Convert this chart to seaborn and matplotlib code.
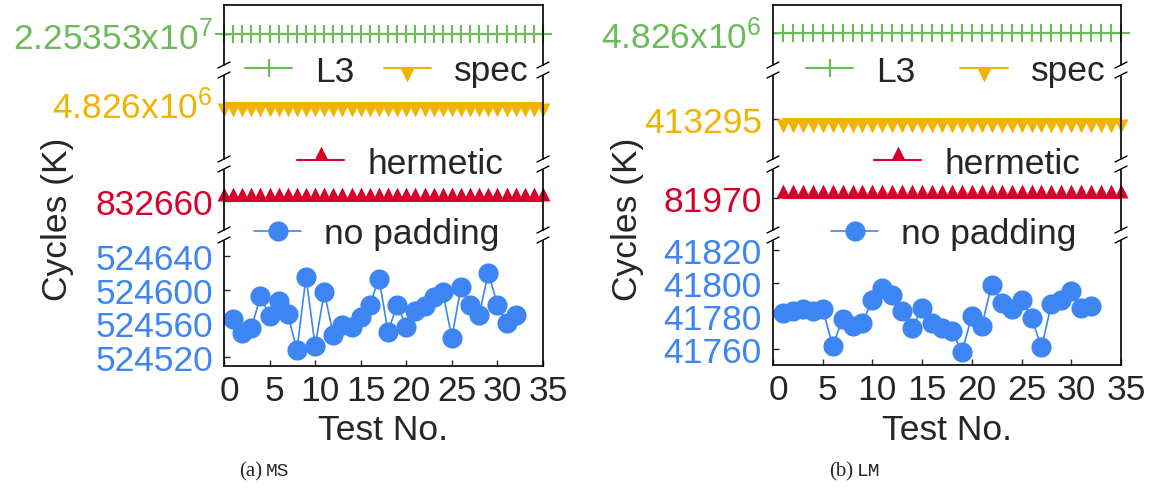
import matplotlib
matplotlib.use('Agg')
import matplotlib.pyplot as plt
import matplotlib.transforms as mtransforms
from matplotlib.lines import Line2D
from matplotlib.patches import Rectangle
import seaborn as sns

sns.set_style('white')
plt.rcParams['font.family'] = ['Liberation Sans', 'DejaVu Sans']
plt.rcParams['mathtext.fontset'] = 'custom'
plt.rcParams['mathtext.rm'] = 'Liberation Sans'
plt.rcParams['mathtext.it'] = 'Liberation Sans'

# ---- data ----
ms_tests = list(range(1, 33))
ms_nopad = [524565, 524549, 524554, 524592, 524569, 524586, 524571, 524528,
            524615, 524533, 524597, 524546, 524558, 524556, 524567, 524582,
            524613, 524550, 524582, 524556, 524574, 524581, 524591, 524597,
            524543, 524603, 524582, 524570, 524620, 524582, 524560, 524570]
ms_flat_tests = list(range(0, 36))
ms_l3 = 2.25353e7
ms_spec = 4.826e6
ms_hermetic = 832660
ms_yticks = [524520, 524560, 524600, 524640]

lm_tests = list(range(1, 33))
lm_nopad = [41782, 41783, 41784, 41783, 41784, 41762, 41778, 41774,
            41776, 41790, 41797, 41793, 41783, 41773, 41785, 41776,
            41773, 41771, 41758, 41780, 41774, 41799, 41788, 41784,
            41790, 41779, 41761, 41787, 41790, 41795, 41785, 41786]
lm_flat_tests = list(range(1, 36))
lm_l3 = 4.826e6
lm_spec = 413295
lm_hermetic = 81970
lm_yticks = [41760, 41780, 41800, 41820]

ms_flat_labels = ['2.25353x10$^{7}$', '4.826x10$^{6}$', '832660']
lm_flat_labels = ['4.826x10$^{6}$', '413295', '81970']
xticks = [0, 5, 10, 15, 20, 25, 30, 35]

GREEN = '#6cbb5a'
GOLD = '#f2b300'
RED = '#d8002a'
BLUE = '#3d85f2'
FS = 25.5

W, H = 1151, 489
fig = plt.figure(figsize=(W / 100, H / 100), dpi=100)


def fx(px):
    return px / W


def fy(py):
    return 1 - py / H


tri_down = [(-0.5, 0), (0.5, 0), (0, -1)]
tri_up = [(-0.5, 0), (0.5, 0), (0, 1)]


def break_mark(xpx, ypx):
    fig.add_artist(Rectangle((fx(xpx - 3), fy(ypx + 4)), 6 / W, 8 / H,
                             transform=fig.transFigure, color='white', zorder=10))
    for dy in (-5, 5):
        yc = ypx + dy
        fig.add_artist(Line2D([fx(xpx - 6), fx(xpx + 6)], [fy(yc + 3), fy(yc - 3)],
                              transform=fig.transFigure, color='black', lw=1.0, zorder=11))


def panel(left, right, bounds, vpx, flat_x, l3, spec, herm, flat_labels,
          tests, nopad, ylim4, yticks4, leg_x, colsp, ylab_x, cap_x, caption):
    axes = []
    for i in range(4):
        top, bot = bounds[i], bounds[i + 1]
        ax = fig.add_axes([fx(left), fy(bot), (right - left) / W, (bot - top) / H])
        ax.set_xlim(0, 35)
        for s in ax.spines.values():
            s.set_color('black')
            s.set_linewidth(1.2)
        ax.spines['top'].set_visible(i == 0)
        ax.spines['bottom'].set_visible(i == 3)
        ax.tick_params(axis='y', direction='in', length=4, width=1, left=True,
                       right=False, labelsize=FS, pad=8)
        ax.tick_params(axis='x', direction='in', length=4, width=1, bottom=(i == 3),
                       top=False, labelbottom=(i == 3), labelsize=FS, pad=6)
        axes.append(ax)

    flat_vals = [l3, spec, herm]
    colors = [GREEN, GOLD, RED]
    markers = ['+', tri_down, tri_up]
    msizes = [13, 20, 20]
    handles = []
    for i in range(3):
        ax = axes[i]
        v = flat_vals[i]
        top, bot = bounds[i], bounds[i + 1]
        k = v * 1e-4
        ax.set_ylim(v - (bot - vpx[i]) * k, v + (vpx[i] - top) * k)
        sns.lineplot(x=flat_x, y=[v] * len(flat_x), ax=ax, color=colors[i],
                     marker=markers[i], markersize=msizes[i], markeredgecolor=colors[i],
                     markeredgewidth=1.5 if i == 0 else 0, lw=1.5, clip_on=False)
        ax.set_yticks([v])
        ax.set_yticklabels([flat_labels[i]])
        ax.tick_params(axis='y', labelcolor=colors[i])
        ax.set_xticks([])
        handles.append(ax.get_lines()[0])

    ax = axes[3]
    sns.lineplot(x=tests, y=nopad, ax=ax, color=BLUE, marker='o', markersize=14.5,
                 markeredgecolor=BLUE, markeredgewidth=0, lw=1.2)
    ax.set_ylim(*ylim4)
    ax.set_yticks(yticks4)
    ax.set_yticklabels([str(t) for t in yticks4])
    ax.tick_params(axis='y', labelcolor=BLUE)
    ax.set_xticks(xticks)
    ax.set_xticklabels([str(t) for t in xticks])
    off = mtransforms.ScaledTranslation(5 / 100, 0, fig.dpi_scale_trans)
    for lab in ax.get_xticklabels():
        lab.set_transform(lab.get_transform() + off)
    ax.set_xlabel('')
    ax.set_ylabel('')
    handles.append(ax.get_lines()[0])
    for a in axes[:3]:
        a.set_xlabel('')
        a.set_ylabel('')

    for b in bounds[1:4]:
        break_mark(left, b)
        break_mark(right, b)

    common = dict(frameon=False, fontsize=FS, handlelength=1.33, handletextpad=0.65,
                  borderpad=0, borderaxespad=0, loc='center left')
    fig.legend(handles[:2], ['L3', 'spec'], ncol=2, columnspacing=colsp,
               bbox_to_anchor=(fx(leg_x[0]), fy(72)), **common)
    fig.legend([handles[2]], ['hermetic'], bbox_to_anchor=(fx(leg_x[1]), fy(164)), **common)
    fig.legend([handles[3]], ['no padding'], bbox_to_anchor=(fx(leg_x[2]), fy(235)), **common)

    fig.text(fx(ylab_x), fy(219), 'Cycles (K)', rotation=90, ha='center', va='center',
             fontsize=FS)
    fig.text(fx((left + right) / 2), fy(440), 'Test No.', ha='center', va='baseline',
             fontsize=FS)
    fig.text(fx(cap_x), fy(476), '(' + caption[0] + ')', ha='right', va='baseline',
             fontsize=15, family='Liberation Serif')
    fig.text(fx(cap_x + 4), fy(476), caption[1], ha='left', va='baseline',
             fontsize=14, family='Liberation Mono')


panel(224, 543, [6, 71, 165, 236, 367], [35, 104, 202], ms_flat_tests,
      ms_l3, ms_spec, ms_hermetic, ms_flat_labels, ms_tests, ms_nopad,
      (524509.3, 524664.8), ms_yticks, [245, 297, 254], 0.82, 58, 262, ('a', 'MS'))
panel(773, 1121, [6, 71, 165, 236, 366], [34, 120, 199], lm_flat_tests,
      lm_l3, lm_spec, lm_hermetic, lm_flat_labels, lm_tests, lm_nopad,
      (41750.3, 41829.1), lm_yticks, [806, 874, 831], 1.27, 628, 853, ('b', 'LM'))

fig.savefig('out.png', dpi=100)
